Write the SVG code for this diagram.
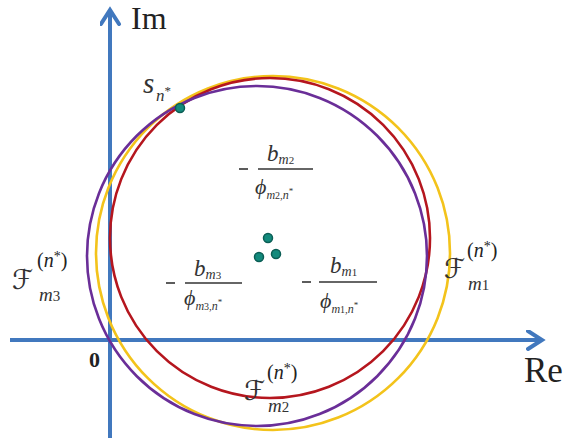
<svg xmlns="http://www.w3.org/2000/svg" width="566" height="443" viewBox="0 0 566 443">
<style>
.ax{stroke:#4178be;stroke-width:4;fill:none}
.c{fill:none;stroke-width:2.6}
.m{font-family:"Liberation Serif","DejaVu Serif",serif;font-style:italic;fill:#333}
.r{font-family:"Liberation Serif","DejaVu Serif",serif;fill:#222}
.F{font-family:"DejaVu Serif","DejaVu Sans",serif;font-style:italic;fill:#333}
.bar{stroke:#333;stroke-width:1.6}
.dot{fill:#138a7c;stroke:#0b5e55;stroke-width:1.5}
</style>
<defs>
<marker id="ah" markerUnits="userSpaceOnUse" markerWidth="24" markerHeight="24" refX="16" refY="10" orient="auto">
<path d="M2,1 L16,10 L2,19" fill="none" stroke="#4178be" stroke-width="4" stroke-linecap="round" stroke-linejoin="miter"/>
</marker>
</defs>
<rect width="566" height="443" fill="#fff"/>
<g id="axes">
<line class="ax" x1="110" y1="438" x2="110" y2="10" marker-end="url(#ah)"/>
<line class="ax" x1="10" y1="340" x2="542" y2="340" marker-end="url(#ah)"/>
</g>
<g id="circles">
<circle class="c" cx="273" cy="253" r="177" stroke="#f3c31b"/>
<circle class="c" cx="270" cy="238" r="160" stroke="#b5161e"/>
<circle class="c" cx="257" cy="256" r="170" stroke="#6a2e98"/>
</g>
<g id="dots">
<circle class="dot" cx="180" cy="108" r="4.5"/>
<circle class="dot" cx="268" cy="238" r="4.5"/>
<circle class="dot" cx="259" cy="257" r="4.5"/>
<circle class="dot" cx="276" cy="254" r="4.5"/>
</g>
<g id="labels">
<text class="r" x="131" y="29" font-size="32">Im</text>
<text class="r" x="524" y="382" font-size="35">Re</text>
<text class="r" x="89" y="367" font-size="22" font-weight="bold">0</text>
<text class="m" x="143" y="93" font-size="29">s</text>
<text class="m" x="156" y="101" font-size="17">n<tspan font-style="normal" font-size="13" dy="-6">*</tspan></text>
</g>
<g id="frac2">
<line class="bar" x1="239" y1="169" x2="248" y2="169"/>
<line class="bar" x1="258" y1="169" x2="313" y2="169"/>
<text class="m" x="267" y="161" font-size="23">b<tspan font-size="14" dy="3">m</tspan><tspan font-style="normal" font-size="11">2</tspan></text>
<text class="m" x="255" y="194" font-size="22">ϕ<tspan font-size="12" dy="5">m</tspan><tspan font-style="normal" font-size="10">2</tspan><tspan font-style="normal" font-size="11">,</tspan><tspan font-size="12">n</tspan><tspan font-style="normal" font-size="9" dy="-5">*</tspan></text>
</g>
<g id="frac3">
<line class="bar" x1="166" y1="283" x2="175" y2="283"/>
<line class="bar" x1="185" y1="283" x2="242" y2="283"/>
<text class="m" x="194" y="276" font-size="23">b<tspan font-size="14" dy="3">m</tspan><tspan font-style="normal" font-size="11">3</tspan></text>
<text class="m" x="184" y="305" font-size="22">ϕ<tspan font-size="12" dy="5">m</tspan><tspan font-style="normal" font-size="10">3</tspan><tspan font-style="normal" font-size="11">,</tspan><tspan font-size="12">n</tspan><tspan font-style="normal" font-size="9" dy="-5">*</tspan></text>
</g>
<g id="frac1">
<line class="bar" x1="302" y1="282" x2="311" y2="282"/>
<line class="bar" x1="319" y1="282" x2="377" y2="282"/>
<text class="m" x="330" y="273" font-size="23">b<tspan font-size="14" dy="3">m</tspan><tspan font-style="normal" font-size="11">1</tspan></text>
<text class="m" x="320" y="308" font-size="22">ϕ<tspan font-size="12" dy="5">m</tspan><tspan font-style="normal" font-size="10">1</tspan><tspan font-style="normal" font-size="11">,</tspan><tspan font-size="12">n</tspan><tspan font-style="normal" font-size="9" dy="-5">*</tspan></text>
</g>
<g id="F3">
<text class="F" x="12" y="289" font-size="27">ℱ</text>
<text class="r" x="37" y="267" font-size="20">(<tspan font-style="italic">n</tspan><tspan font-size="14" dy="-6">*</tspan><tspan dy="6">)</tspan></text>
<text class="m" x="39" y="301" font-size="19">m<tspan font-style="normal" font-size="15">3</tspan></text>
</g>
<g id="F1">
<text class="F" x="444" y="278" font-size="27">ℱ</text>
<text class="r" x="467" y="257" font-size="20">(<tspan font-style="italic">n</tspan><tspan font-size="14" dy="-6">*</tspan><tspan dy="6">)</tspan></text>
<text class="m" x="468" y="290" font-size="19">m<tspan font-style="normal" font-size="15">1</tspan></text>
</g>
<g id="F2">
<text class="F" x="244" y="400" font-size="27">ℱ</text>
<text class="r" x="267" y="379" font-size="20">(<tspan font-style="italic">n</tspan><tspan font-size="14" dy="-6">*</tspan><tspan dy="6">)</tspan></text>
<text class="m" x="268" y="412" font-size="19">m<tspan font-style="normal" font-size="15">2</tspan></text>
</g>
</svg>
